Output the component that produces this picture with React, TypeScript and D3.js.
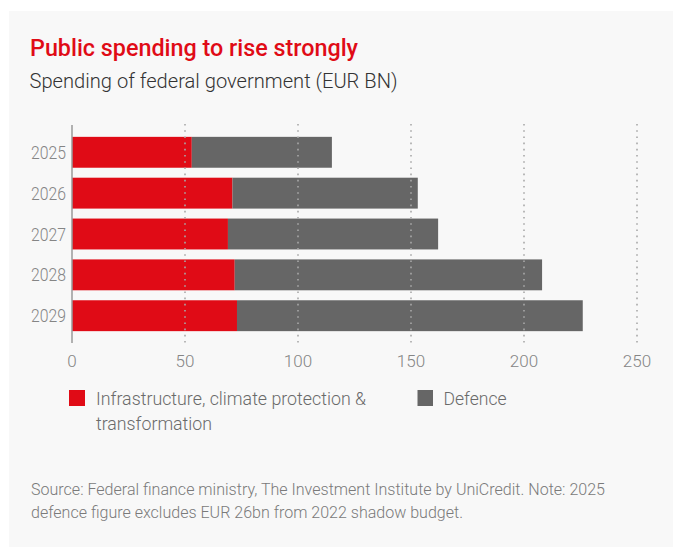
import React from "react";
import * as d3 from "d3";

const years = ["2025", "2026", "2027", "2028", "2029"];
const infrastructure = [53, 71, 69, 72, 73];
const defence = [62, 82, 93, 136, 153];
const xTicks = [0, 50, 100, 150, 200, 250];
const seriesNames = ["Infrastructure, climate protection &", "Defence"];
const seriesKeys = ["infrastructure", "defence"];

const RED = "#e00b16";
const GRAY = "#666666";
const FONT = "Roboto, 'Noto Sans', sans-serif";

export default function App() {
  const W = 673;
  const H = 547;
  const x = d3.scaleLinear().domain([0, 250]).range([72, 637]);
  const y = d3
    .scaleBand<string>()
    .domain(years)
    .range([125, 343])
    .paddingInner(0.244)
    .paddingOuter(0.29);

  const rows = years.map((yr, i) => ({
    year: yr,
    infrastructure: infrastructure[i],
    defence: defence[i],
  }));
  const stacked = d3.stack<any>().keys(seriesKeys)(rows);
  const colors = d3.scaleOrdinal<string, string>().domain(seriesKeys).range([RED, GRAY]);

  return (
    <svg
      width={W}
      height={H}
      style={{ position: "absolute", left: 0, top: 0, fontFamily: FONT }}
    >
      <rect x={9} y={11} width={W - 9} height={H - 11} fill="#f8f8f8" />
      <text x={30} y={56} fontSize={24} fontWeight={500} fill={RED} textLength={328} lengthAdjust="spacingAndGlyphs">
        Public spending to rise strongly
      </text>
      <text x={29.5} y={87.5} fontSize={21} fontWeight={300} fill="#333" textLength={368} lengthAdjust="spacingAndGlyphs">
        Spending of federal government (EUR BN)
      </text>

      {stacked.map((s) => (
        <g key={s.key} fill={colors(s.key)}>
          {s.map((d: any, i: number) => (
            <rect
              key={i}
              x={x(d[0])}
              y={y(d.data.year)}
              width={x(d[1]) - x(d[0])}
              height={y.bandwidth()}
            />
          ))}
        </g>
      ))}

      {xTicks.filter((t) => t > 0).map((t) => (
        <line
          key={t}
          x1={x(t)}
          x2={x(t)}
          y1={124}
          y2={343}
          stroke="#a8a8a8"
          strokeWidth={1.6}
          strokeDasharray="1.6 4.6"
        />
      ))}
      <line x1={x(0)} x2={x(0)} y1={125} y2={343} stroke="#9a9a9a" strokeWidth={1.5} />

      {years.map((yr) => (
        <text
          key={yr}
          x={66}
          y={(y(yr) as number) + y.bandwidth() / 2 + 6.5}
          fontSize={18}
          fontWeight={300}
          fill="#858585"
          textAnchor="end"
          textLength={35}
          lengthAdjust="spacingAndGlyphs"
        >
          {yr}
        </text>
      ))}
      {xTicks.map((t) => (
        <text key={t} x={x(t)} y={367} fontSize={17} fontWeight={300} fill="#858585" textAnchor="middle">
          {t}
        </text>
      ))}

      <rect x={69} y={390} width={16} height={16} fill={RED} />
      <text x={96} y={404.5} fontSize={19} fontWeight={300} fill="#6a6a6a" textLength={270} lengthAdjust="spacingAndGlyphs">
        {seriesNames[0]}
      </text>
      <text x={96} y={430} fontSize={19} fontWeight={300} fill="#6a6a6a" textLength={116} lengthAdjust="spacingAndGlyphs">
        transformation
      </text>
      <rect x={417.5} y={390} width={15.5} height={16} fill={GRAY} />
      <text x={443.5} y={404.5} fontSize={19} fontWeight={300} fill="#6a6a6a" textLength={63} lengthAdjust="spacingAndGlyphs">
        {seriesNames[1]}
      </text>

      <text x={31} y={494.5} fontSize={16.5} fontWeight={300} fill="#7a7a7a" textLength={574} lengthAdjust="spacingAndGlyphs">
        Source: Federal finance ministry, The Investment Institute by UniCredit. Note: 2025
      </text>
      <text x={31} y={518} fontSize={16.5} fontWeight={300} fill="#7a7a7a" textLength={432} lengthAdjust="spacingAndGlyphs">
        defence figure excludes EUR 26bn from 2022 shadow budget.
      </text>
    </svg>
  );
}
